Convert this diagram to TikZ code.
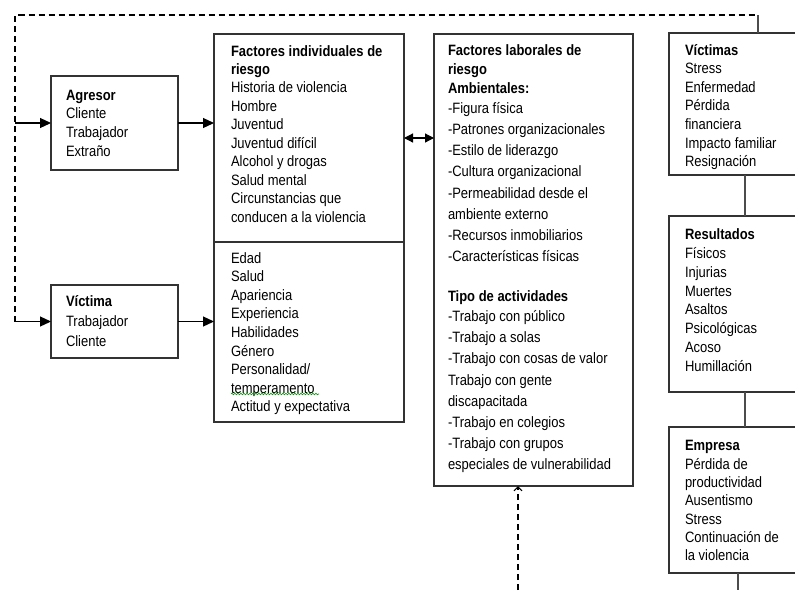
\documentclass[tikz,border=0pt]{standalone}
\usepackage{fontspec}
\setmainfont{Liberation Sans}[FakeStretch=0.865]
\usetikzlibrary{arrows.meta,decorations.pathmorphing}
\newcommand\blk[2]{\parbox[t]{200pt}{\fontsize{15}{#1}\selectfont\raggedright #2}}
\begin{document}
\begin{tikzpicture}[x=1pt,y=-1pt,
  bx/.style={draw=black!80,line width=1.1pt,rectangle,inner sep=0,outer sep=0,anchor=north west},
  txt/.style={inner sep=0,outer sep=0,anchor=base west},
  arr/.style={line width=1.2pt,-{Triangle[length=11pt,width=10pt]}},
  darr/.style={line width=1.2pt,{Triangle[length=9pt,width=9pt]}-{Triangle[length=9pt,width=9pt]}},
  dsh/.style={line width=1.1pt,dash pattern=on 6pt off 4pt},
  conn/.style={line width=1.1pt,draw=black!70}]
\clip (0,0) rectangle (795,590);
\fill[white] (0,0) rectangle (795,590);
% boxes
\node[bx,minimum width=127,minimum height=94] (agr) at (51,76) {};
\node[bx,minimum width=127,minimum height=73] (vic) at (51,285) {};
\node[bx,minimum width=190,minimum height=208] (ind) at (214,34) {};
\node[bx,minimum width=190,minimum height=180] (ind2) at (214,242) {};
\node[bx,minimum width=199,minimum height=452] (lab) at (434,34) {};
\node[bx,minimum width=160,minimum height=142] (vics) at (669,33) {};
\node[bx,minimum width=160,minimum height=176] (res) at (669,216) {};
\node[bx,minimum width=160,minimum height=146] (emp) at (669,427) {};
% texts
\node[txt] (tagr) at (66,100) {\blk{18.7}{\textbf{Agresor}\\Cliente\\Trabajador\\Extraño}};
\node[txt] (tvic) at (66,306.7) {\blk{20}{\textbf{Víctima}\\Trabajador\\Cliente}};
\node[txt] (tind) at (231,56) {\blk{18.45}{\textbf{Factores individuales de}\\\textbf{riesgo}\\Historia de violencia\\Hombre\\Juventud\\Juventud difícil\\Alcohol y drogas\\Salud mental\\Circunstancias que\\conducen a la violencia}};
\node[txt] (tind2) at (231,263.3) {\blk{18.55}{Edad\\Salud\\Apariencia\\Experiencia\\Habilidades\\Género\\Personalidad/\\temperamento\\Actitud y expectativa}};
\node[txt] (tlab) at (448,55) {\blk{19.4}{\textbf{Factores laborales de}\\\textbf{riesgo}\\\textbf{Ambientales:}}};
\node[txt] (tlab2) at (448,113.3) {\blk{21.2}{-Figura física\\-Patrones organizacionales\\-Estilo de liderazgo\\-Cultura organizacional\\-Permeabilidad desde el\\ambiente externo\\-Recursos inmobiliarios\\-Características físicas}};
\node[txt] (tlab3) at (448,301.7) {\blk{20}{\textbf{Tipo de actividades}}};
\node[txt] (tlab4) at (448,321.7) {\blk{21.1}{-Trabajo con público\\-Trabajo a solas\\-Trabajo con cosas de valor\\Trabajo con gente\\discapacitada\\-Trabajo en colegios\\-Trabajo con grupos\\especiales de vulnerabilidad}};
\node[txt] (tvics) at (685,55) {\blk{18.6}{\textbf{Víctimas}\\Stress\\Enfermedad\\Pérdida\\financiera\\Impacto familiar\\Resignación}};
\node[txt] (tres) at (685,239.3) {\blk{18.9}{\textbf{Resultados}\\Físicos\\Injurias\\Muertes\\Asaltos\\Psicológicas\\Acoso\\Humillación}};
\node[txt] (temp) at (685,450.7) {\blk{18.33}{\textbf{Empresa}\\Pérdida de\\productividad\\Ausentismo\\Stress\\Continuación de\\la violencia}};
% spell-check underline
\draw[green!60!black,line width=0.6pt,decorate,decoration={snake,amplitude=0.8pt,segment length=3pt}] (231,394) -- (319,394);
% coordinates
\coordinate (dl) at (15,321.5);
\coordinate (tr) at (758,15);
\coordinate (rc) at (745,0);
\coordinate (rc2) at (738,590);
\coordinate (bot) at (518,590);
% connectors
\draw[dsh] (dl) |- (tr);
\draw[conn] (tr) -- (tr |- vics.north);
\draw[arr] (agr.west -| dl) -- (agr.west);
\draw[arr] (dl) -- (vic.west);
\draw[arr] (agr.east) -- (agr.east -| ind.west);
\draw[arr] (vic.east) -- (vic.east -| ind2.west);
\draw[darr] (ind.east) -- (ind.east -| lab.west);
\draw[conn] (vics.south -| rc) -- (res.north -| rc);
\draw[conn] (res.south -| rc) -- (emp.north -| rc);
\draw[conn] (emp.south -| rc2) -- (rc2);
\draw[dsh,-{Straight Barb[length=4pt,width=8pt]}] (bot) -- (lab.south -| bot);
\end{tikzpicture}
\end{document}
